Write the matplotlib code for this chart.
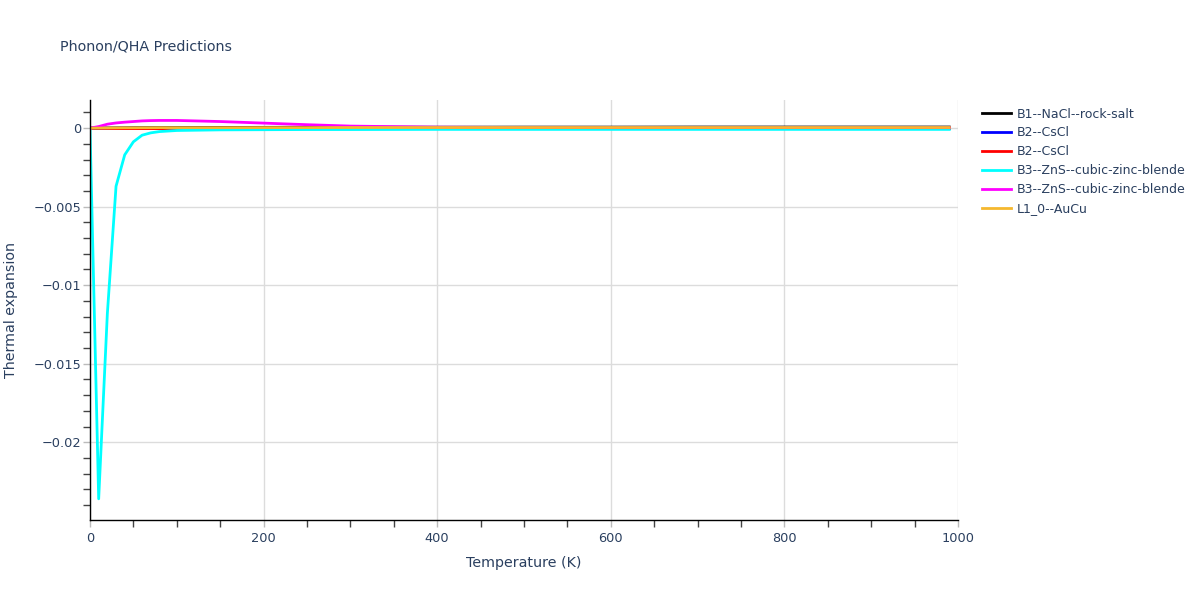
import numpy as np
import matplotlib.pyplot as plt
from matplotlib.ticker import MultipleLocator, FuncFormatter

temps = [0, 10, 20, 30, 40, 50, 60, 70, 80, 100, 150, 200, 250, 300,
         400, 500, 600, 700, 800, 900, 990]

b1_nacl = [0, 0.000005, 0.00001, 0.000015, 0.00002, 0.000025, 0.00003, 0.00003, 0.000035,
           0.00004, 0.000045, 0.00005, 0.000055, 0.00006, 0.00006, 0.000065, 0.000065,
           0.00007, 0.00007, 0.00007, 0.00007]
b2_cscl_a = [0, -0.000005, -0.00001, -0.00001, -0.00001, -0.00001, -0.00001, -0.00001,
             -0.00001, -0.00001, -0.00001, -0.00001, -0.00001, -0.00001, -0.00001,
             -0.00001, -0.00001, -0.00001, -0.00001, -0.00001, -0.00001]
b2_cscl_b = [0, -0.00001, -0.00002, -0.00003, -0.00003, -0.00003, -0.00003, -0.00003,
             -0.00003, -0.00003, -0.00003, -0.00003, -0.00003, -0.00003, -0.00003,
             -0.00003, -0.00003, -0.00003, -0.00003, -0.00003, -0.00003]
b3_zns_a = [0, -0.0236, -0.0118, -0.0037, -0.0017, -0.00087, -0.00045, -0.0003, -0.00022,
            -0.00015, -0.00011, -0.0001, -0.00009, -0.00009, -0.00008, -0.00008,
            -0.00008, -0.00008, -0.00008, -0.00008, -0.00008]
b3_zns_b = [0, 0.0001, 0.00025, 0.00033, 0.00038, 0.00042, 0.00046, 0.00048, 0.00049,
            0.00049, 0.00042, 0.00032, 0.00022, 0.00013, 0.00006, 0.00004, 0.00003,
            0.00003, 0.00003, 0.00003, 0.00003]
l10_aucu = [0, 0.000005, 0.00001, 0.000015, 0.00002, 0.00002, 0.000025, 0.000025, 0.00003,
            0.00003, 0.00003, 0.000035, 0.000035, 0.00004, 0.00004, 0.00004, 0.00004,
            0.00004, 0.00004, 0.00004, 0.00004]

labels = ["B1--NaCl--rock-salt", "B2--CsCl", "B2--CsCl",
          "B3--ZnS--cubic-zinc-blende", "B3--ZnS--cubic-zinc-blende", "L1_0--AuCu"]
colors = ["black", "blue", "red", "cyan", "magenta", "#f5b82e"]
series = [b1_nacl, b2_cscl_a, b2_cscl_b, b3_zns_a, b3_zns_b, l10_aucu]

txt = "#2a3f5f"
fig = plt.figure(figsize=(12, 6), dpi=100)
ax = fig.add_axes([0.075, 0.1333, 0.7233, 0.7])

for vals, lab, col in zip(series, labels, colors):
    ax.plot(temps, vals, color=col, lw=2, label=lab)

ax.set_xlim(0, 1000)
ax.set_ylim(-0.02495, 0.00179)
ax.xaxis.set_major_locator(MultipleLocator(200))
ax.xaxis.set_minor_locator(MultipleLocator(50))
ax.yaxis.set_major_locator(MultipleLocator(0.005))
ax.yaxis.set_minor_locator(MultipleLocator(0.001))

def yfmt(v, pos):
    if abs(v) < 1e-12:
        return "0"
    s = ("%.3f" % v).rstrip("0")
    return s.replace("-", "\u2212")

ax.yaxis.set_major_formatter(FuncFormatter(yfmt))
ax.grid(True, which="major", color="#dcdcdc", lw=1)
ax.xaxis.get_gridlines()[-1].set_visible(False)
ax.set_axisbelow(True)
for s in ["top", "right"]:
    ax.spines[s].set_visible(False)
for s in ["left", "bottom"]:
    ax.spines[s].set_color("black")
    ax.spines[s].set_linewidth(1)
ax.tick_params(which="major", length=5, color="#bbbbbb", labelcolor=txt, labelsize=9.3, width=1)
ax.tick_params(axis="y", which="major", pad=1.5)
ax.tick_params(which="minor", length=5, color="#444444", width=1)
ax.set_xlabel("Temperature (K)", color=txt, fontsize=10.3, labelpad=8)
fig.text(0.009, 0.4833, "Thermal expansion", color=txt, fontsize=10.3, rotation=90,
         ha="center", va="center")

fig.text(0.05, 0.923, "Phonon/QHA Predictions", color=txt, fontsize=10.3, ha="left", va="center")

leg = ax.legend(loc="upper left", bbox_to_anchor=(1.019, 1.0), frameon=False, fontsize=9,
                handlelength=2.3, handletextpad=0.5, labelspacing=0.47, borderaxespad=0.2)
for t in leg.get_texts():
    t.set_color(txt)

fig.savefig("out.png", dpi=100)
